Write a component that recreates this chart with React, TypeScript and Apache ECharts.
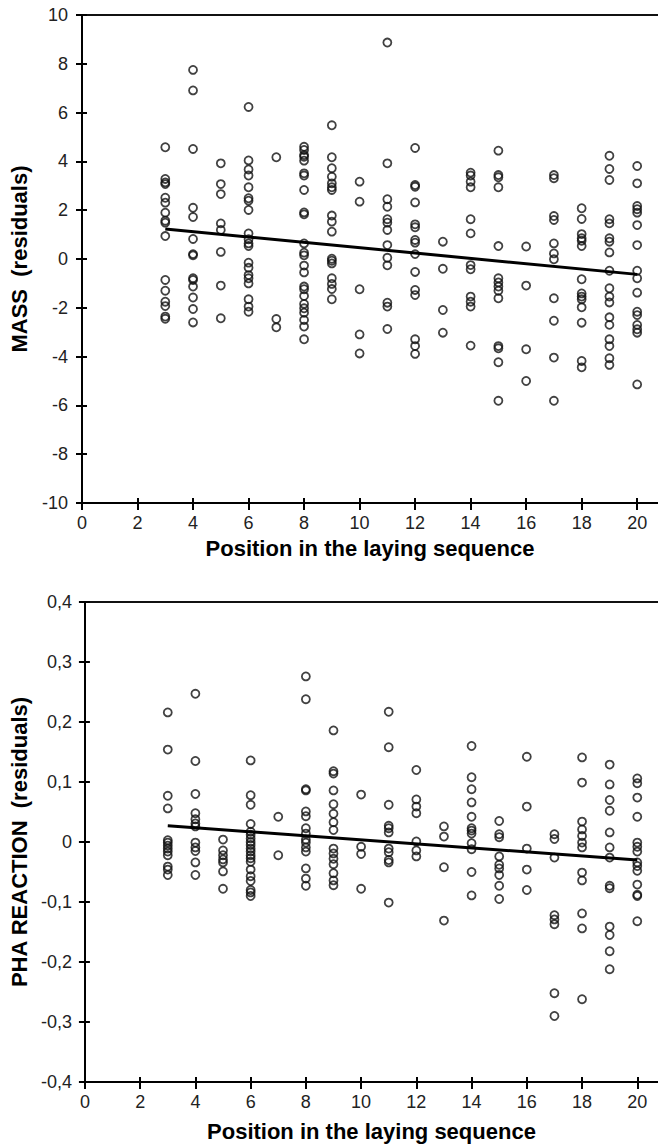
import React, { useEffect, useRef } from "react";
import * as echarts from "echarts";

// Position in the laying sequence (x categories)
const positions = [3, 4, 5, 6, 7, 8, 9, 10, 11, 12, 13, 14, 15, 16, 17, 18, 19, 20];

// MASS residuals, one list per position
const massResiduals: number[][] = [
  [4.58, 3.28, 3.14, 3.07, 2.51, 2.31, 1.9, 1.57, 1.49, 0.94, -0.86, -1.3, -1.75, -1.93, -2.36, -2.45],
  [7.75, 6.91, 4.51, 2.1, 1.72, 0.82, 0.2, 0.15, -0.79, -0.86, -1.13, -1.58, -2.05, -2.6],
  [3.92, 3.07, 2.66, 1.46, 1.19, 0.29, -1.09, -2.43],
  [6.23, 4.04, 3.67, 3.42, 2.94, 2.49, 2.39, 2.01, 1.05, 0.81, 0.64, 0.53, -0.15, -0.36, -0.66, -0.79, -1.0, -1.65, -1.95, -2.16],
  [4.17, -2.46, -2.8],
  [4.6, 4.47, 4.26, 4.19, 4.03, 3.51, 3.42, 2.83, 1.91, 1.83, 0.64, 0.26, 0.15, -0.27, -0.55, -1.13, -1.24, -1.52, -1.84, -2.02, -2.2, -2.5, -2.77, -3.29],
  [5.48, 4.17, 3.72, 3.37, 3.1, 2.94, 2.83, 1.78, 1.53, 1.12, 0.01, -0.07, -0.18, -0.79, -1.02, -1.23, -1.65],
  [3.17, 2.35, -1.24, -3.09, -3.87],
  [8.87, 3.92, 2.45, 2.14, 1.63, 1.49, 1.19, 0.57, 0.05, -0.26, -1.79, -1.95, -2.87],
  [4.55, 3.03, 2.96, 2.32, 1.42, 1.3, 0.78, 0.67, 0.2, -0.53, -1.27, -1.48, -3.29, -3.57, -3.89],
  [0.71, -0.4, -2.09, -3.02],
  [3.54, 3.42, 3.17, 2.94, 1.63, 1.05, -0.25, -0.42, -1.54, -1.75, -1.95, -3.55],
  [4.44, 3.44, 3.35, 2.94, 0.53, -0.79, -0.96, -1.13, -1.3, -1.61, -3.57, -3.66, -4.23, -5.81],
  [0.51, -1.09, -3.7, -5.0],
  [3.44, 3.31, 1.76, 1.6, 0.64, 0.23, -0.01, -1.61, -2.53, -4.04, -5.81],
  [2.08, 1.64, 1.02, 0.85, 0.75, 0.53, -0.83, -1.41, -1.54, -1.65, -1.98, -2.61, -4.18, -4.44],
  [4.23, 3.69, 3.24, 1.63, 1.46, 0.85, 0.71, 0.27, -0.48, -1.2, -1.54, -1.78, -2.39, -2.7, -3.29, -3.57, -4.07, -4.34],
  [3.81, 3.1, 2.17, 2.04, 1.9, 1.39, 0.57, -0.48, -0.79, -1.38, -2.16, -2.3, -2.7, -2.88, -3.02, -5.14],
];

// PHA REACTION residuals, one list per position
const phaResiduals: number[][] = [
  [0.216, 0.154, 0.077, 0.056, 0.003, -0.001, -0.006, -0.011, -0.016, -0.022, -0.041, -0.046, -0.055],
  [0.247, 0.135, 0.08, 0.048, 0.038, 0.031, 0.026, -0.001, -0.009, -0.015, -0.034, -0.055],
  [0.004, -0.014, -0.022, -0.029, -0.034, -0.049, -0.078],
  [0.136, 0.078, 0.062, 0.03, 0.017, 0.012, 0.006, 0.0, -0.005, -0.011, -0.016, -0.022, -0.027, -0.033, -0.046, -0.057, -0.065, -0.08, -0.084, -0.09],
  [0.042, -0.022],
  [0.276, 0.238, 0.088, 0.086, 0.051, 0.043, 0.023, 0.014, 0.004, -0.001, -0.009, -0.016, -0.044, -0.061, -0.073],
  [0.186, 0.118, 0.114, 0.086, 0.063, 0.047, 0.033, 0.02, -0.011, -0.019, -0.028, -0.037, -0.052, -0.064, -0.072],
  [0.079, -0.008, -0.02, -0.078],
  [0.217, 0.158, 0.062, 0.027, 0.023, 0.016, -0.011, -0.017, -0.03, -0.034, -0.101],
  [0.12, 0.071, 0.059, 0.048, 0.001, -0.014, -0.024],
  [0.026, 0.009, -0.042, -0.131],
  [0.16, 0.108, 0.088, 0.066, 0.042, 0.023, 0.019, 0.014, -0.002, -0.012, -0.05, -0.089],
  [0.035, 0.013, 0.008, -0.024, -0.038, -0.044, -0.055, -0.073, -0.095],
  [0.142, 0.059, -0.011, -0.046, -0.08],
  [0.013, 0.005, -0.026, -0.122, -0.129, -0.137, -0.252, -0.29],
  [0.141, 0.099, 0.034, 0.021, 0.01, -0.001, -0.009, -0.051, -0.064, -0.119, -0.144, -0.262],
  [0.129, 0.096, 0.07, 0.052, 0.016, -0.009, -0.026, -0.073, -0.077, -0.141, -0.155, -0.182, -0.212],
  [0.106, 0.098, 0.074, 0.042, -0.001, -0.008, -0.016, -0.034, -0.04, -0.048, -0.071, -0.088, -0.09, -0.132],
];

// Regression lines (endpoints)
const massFitX = [3, 20];
const massFitY = [1.23, -0.63];
const phaFitX = [3, 20];
const phaFitY = [0.027, -0.03];

// Tick values
const xTickValues = [0, 2, 4, 6, 8, 10, 12, 14, 16, 18, 20];
const massTicks = [-10, -8, -6, -4, -2, 0, 2, 4, 6, 8, 10];
const phaTicks = [-0.4, -0.3, -0.2, -0.1, 0, 0.1, 0.2, 0.3, 0.4];

const xTitle = "Position in the laying sequence";
const massTitle = "MASS  (residuals)";
const phaTitle = "PHA REACTION  (residuals)";

const FONT = "'Liberation Sans', Arial, Helvetica, sans-serif";

export default function App() {
  const ref = useRef<HTMLDivElement>(null);

  useEffect(() => {
    if (!ref.current) return;
    const chart = echarts.init(ref.current, undefined, { renderer: "svg" });

    const toPoints = (vals: number[][]) =>
      positions.flatMap((p, i) => vals[i].map((v) => [p, v]));
    const fit = (xs: number[], ys: number[]) => xs.map((x, i) => [x, ys[i]]);

    const xMax = 20.75;
    const titleStyle = { fontFamily: FONT, fontSize: 22, fontWeight: "bold", color: "#000" };
    const labelFont = 18;

    const mainX = (gridIndex: number, gap: number) => ({
      type: "value",
      gridIndex,
      position: "bottom",
      min: 0,
      max: xMax,
      name: xTitle,
      nameLocation: "middle",
      nameGap: gap,
      nameTextStyle: titleStyle,
      axisLine: { show: true, onZero: false, lineStyle: { color: "#000", width: 2 } },
      axisTick: { show: true, inside: false, length: 7, customValues: xTickValues, lineStyle: { color: "#000", width: 2 } },
      axisLabel: {
        show: true,
        margin: 11,
        customValues: xTickValues,
        fontFamily: FONT,
        fontSize: labelFont,
        color: "#222",
        formatter: (v: number) => String(v),
      },
      splitLine: { show: false },
    });
    const innerX = (gridIndex: number) => ({
      type: "value",
      gridIndex,
      position: "bottom",
      min: 0,
      max: xMax,
      axisLine: { show: false, onZero: false },
      axisTick: { show: true, inside: true, length: 5, customValues: xTickValues, lineStyle: { color: "#000", width: 2 } },
      axisLabel: { show: false },
      splitLine: { show: false },
    });
    const topX = (gridIndex: number) => ({
      type: "value",
      gridIndex,
      position: "top",
      min: 0,
      max: xMax,
      axisLine: { show: true, onZero: false, lineStyle: { color: "#111", width: 2 } },
      axisTick: { show: false },
      axisLabel: { show: false },
      splitLine: { show: false },
    });

    const mainY = (
      gridIndex: number,
      ticks: number[],
      title: string,
      margin: number,
      fmt: (v: number) => string
    ) => ({
      type: "value",
      gridIndex,
      position: "left",
      min: ticks[0],
      max: ticks[ticks.length - 1],
      name: title,
      nameLocation: "middle",
      nameGap: 52,
      nameTextStyle: titleStyle,
      axisLine: { show: true, onZero: false, lineStyle: { color: "#000", width: 2 } },
      axisTick: { show: true, inside: false, length: 6, customValues: ticks, lineStyle: { color: "#000", width: 2 } },
      axisLabel: {
        show: true,
        margin,
        customValues: ticks,
        fontFamily: FONT,
        fontSize: labelFont,
        color: "#222",
        formatter: fmt,
      },
      splitLine: { show: false },
    });
    const innerY = (gridIndex: number, ticks: number[]) => ({
      type: "value",
      gridIndex,
      position: "left",
      min: ticks[0],
      max: ticks[ticks.length - 1],
      axisLine: { show: false, onZero: false },
      axisTick: { show: true, inside: true, length: 5, customValues: ticks, lineStyle: { color: "#000", width: 2 } },
      axisLabel: { show: false },
      splitLine: { show: false },
    });

    const massFmt = (v: number) => String(Math.round(v));
    const phaFmt = (v: number) =>
      Math.abs(v) < 1e-9 ? "0" : v.toFixed(1).replace(".", ",");

    const scatterStyle = {
      color: "rgba(0,0,0,0)",
      borderColor: "#111",
      borderWidth: 1.8,
    };

    chart.setOption({
      animation: false,
      backgroundColor: "#fff",
      grid: [
        { left: 82, top: 15, right: 0, height: 488, containLabel: false },
        { left: 82, top: 602, right: 0, height: 480, containLabel: false },
      ],
      xAxis: [mainX(0, 34), innerX(0), topX(0), mainX(1, 38), innerX(1), topX(1)],
      yAxis: [
        mainY(0, massTicks, massTitle, 14, massFmt),
        innerY(0, massTicks),
        mainY(1, phaTicks, phaTitle, 13, phaFmt),
        innerY(1, phaTicks),
      ],
      series: [
        {
          type: "scatter",
          xAxisIndex: 0,
          yAxisIndex: 0,
          symbol: "circle",
          symbolSize: 8,
          itemStyle: scatterStyle,
          data: toPoints(massResiduals),
          z: 2,
        },
        {
          type: "line",
          xAxisIndex: 0,
          yAxisIndex: 0,
          symbol: "none",
          lineStyle: { color: "#000", width: 3 },
          data: fit(massFitX, massFitY),
          z: 3,
        },
        {
          type: "scatter",
          xAxisIndex: 3,
          yAxisIndex: 2,
          symbol: "circle",
          symbolSize: 8,
          itemStyle: scatterStyle,
          data: toPoints(phaResiduals),
          z: 2,
        },
        {
          type: "line",
          xAxisIndex: 3,
          yAxisIndex: 2,
          symbol: "none",
          lineStyle: { color: "#000", width: 3 },
          data: fit(phaFitX, phaFitY),
          z: 3,
        },
      ],
    });

    return () => chart.dispose();
  }, []);

  return (
    <div
      ref={ref}
      style={{ position: "absolute", left: 0, top: 0, width: 658, height: 1146, background: "#fff" }}
    />
  );
}
